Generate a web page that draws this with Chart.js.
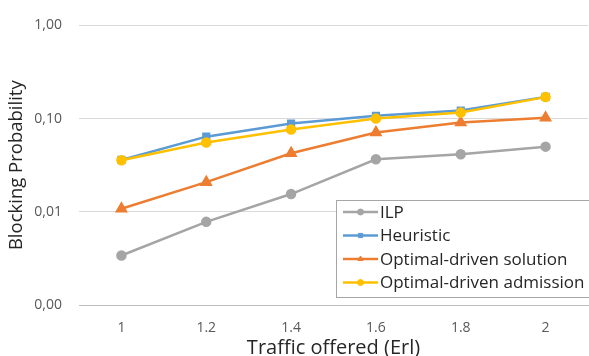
<!DOCTYPE html>
<html>
<head>
<meta charset="utf-8">
<script src="https://cdn.jsdelivr.net/npm/chart.js@4.4.1/dist/chart.umd.min.js"></script>
<style>
  html, body { margin: 0; padding: 0; background: #fff; }
  #wrap { position: relative; width: 589px; height: 356px; }
</style>
</head>
<body>
<div id="wrap"><canvas id="myChart" width="589" height="356"></canvas></div>
<script>
// traffic offered (Erl)
var trafico = ['1', '1.2', '1.4', '1.6', '1.8', '2'];
// blocking probability per method
var ilp        = [0.0034, 0.0078, 0.0155, 0.0366, 0.0414, 0.050];
var heuristica = [0.036, 0.064, 0.0885, 0.107, 0.122, 0.171];
var optSol     = [0.0108, 0.0208, 0.0425, 0.071, 0.0907, 0.102];
var optAdm     = [0.0357, 0.0555, 0.0764, 0.100, 0.116, 0.170];
var ticksY     = [0.001, 0.01, 0.1, 1];

var fuente = '"Open Sans", Lato, sans-serif';

// legend inside the plot, bottom right (like the excel one)
var leyendaDentro = {
  id: 'leyendaDentro',
  afterDraw: function (chart) {
    var ctx = chart.ctx;
    var area = chart.chartArea;
    var sets = chart.data.datasets;
    var w = 253, filaH = 23.5, h = sets.length * filaH + 3;
    var x0 = area.right - w + 1, y0 = area.bottom - h - 8;
    ctx.save();
    ctx.fillStyle = '#fff';
    ctx.fillRect(x0, y0, w, h);
    ctx.strokeStyle = '#a6a6a6';
    ctx.lineWidth = 1;
    ctx.strokeRect(x0 + 0.5, y0 + 0.5, w, h);
    ctx.textBaseline = 'middle';
    for (var i = 0; i < sets.length; i++) {
      var ds = sets[i];
      var cy = y0 + 12 + i * filaH;
      ctx.strokeStyle = ds.borderColor;
      ctx.lineWidth = 2.5;
      ctx.beginPath();
      ctx.moveTo(x0 + 7, cy);
      ctx.lineTo(x0 + 42, cy);
      ctx.stroke();
      ctx.fillStyle = ds.borderColor;
      ctx.lineWidth = 1;
      Chart.helpers.drawPoint(ctx, {
        pointStyle: ds.pointStyle, radius: 3, rotation: 0, borderWidth: 1
      }, x0 + 24.5, cy);
      ctx.fillStyle = '#262626';
      ctx.font = '17px ' + fuente;
      ctx.fillText(ds.label, x0 + 44, cy + 1);
    }
    ctx.restore();
  }
};

function serie(nombre, datos, color, estilo, orden) {
  return {
    label: nombre,
    data: datos,
    borderColor: color,
    backgroundColor: color,
    pointBackgroundColor: color,
    pointBorderColor: color,
    pointStyle: estilo,
    pointRadius: estilo === 'triangle' ? 5 : 4,
    borderWidth: 2.5,
    tension: 0,
    order: orden
  };
}

var ctx = document.getElementById('myChart').getContext('2d');
var myChart = new Chart(ctx, {
  type: 'line',
  data: {
    labels: trafico,
    datasets: [
      serie('ILP', ilp, '#a5a5a5', 'circle', 4),
      serie('Heuristic', heuristica, '#5b9bd5', 'rect', 3),
      serie('Optimal-driven solution', optSol, '#ed7d31', 'triangle', 2),
      serie('Optimal-driven admission', optAdm, '#ffc000', 'circle', 1)
    ]
  },
  options: {
    responsive: false,
    animation: false,
    layout: { autoPadding: false, padding: { top: 22, right: 1, left: 6, bottom: 0 } },
    plugins: {
      legend: { display: false },
      tooltip: { enabled: false }
    },
    scales: {
      x: {
        offset: true,
        grid: { display: false, drawTicks: false },
        border: { display: true, color: '#bfbfbf', width: 1 },
        ticks: { color: '#595959', font: { family: fuente, size: 14 }, padding: 15 },
        title: {
          display: true, text: 'Traffic offered (Erl)', color: '#262626',
          font: { family: fuente, size: 20 }, padding: { top: 0, bottom: -4 }
        },
        afterFit: function (scale) {
          scale.height = 51;
          scale.paddingLeft = 0;
          scale.paddingRight = 0;
        }
      },
      y: {
        type: 'logarithmic',
        min: 0.001,
        max: 1,
        afterBuildTicks: function (scale) {
          scale.ticks = ticksY.map(function (v) { return { value: v }; });
        },
        grid: { color: '#d9d9d9', drawTicks: false },
        border: { display: false },
        ticks: {
          color: '#595959', font: { family: fuente, size: 14 }, padding: 17,
          callback: function (v) { return Number(v).toFixed(2).replace('.', ','); }
        },
        title: {
          display: true, text: 'Blocking Probability', color: '#262626',
          font: { family: fuente, size: 18.5 }, padding: { top: 0, bottom: 0 }
        },
        afterFit: function (scale) { scale.width = 73; }
      }
    }
  },
  plugins: [leyendaDentro]
});
</script>
</body>
</html>
